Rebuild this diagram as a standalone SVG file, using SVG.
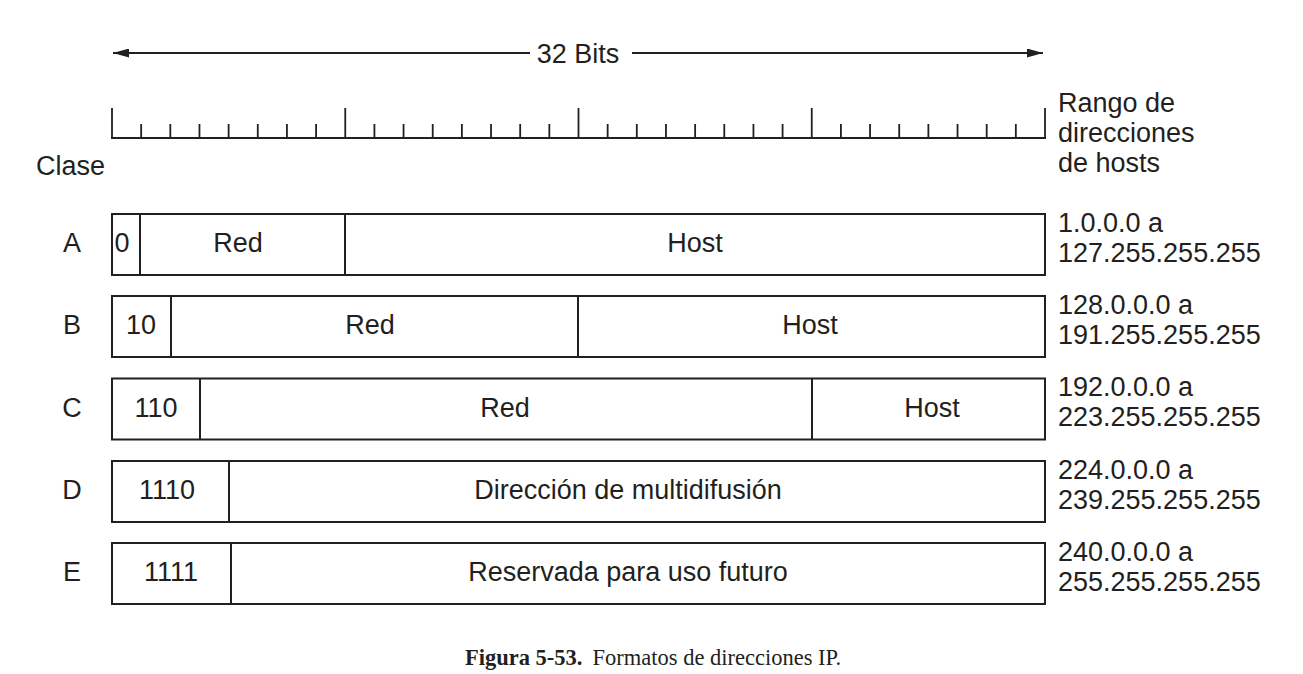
<svg xmlns="http://www.w3.org/2000/svg" width="1303" height="674" viewBox="0 0 1303 674">
  <style>
    .t { font-family: "Liberation Sans", Arial, Helvetica, sans-serif; font-size: 27px; fill: #231f20; }
    .m { text-anchor: middle; }
    .box { fill: #ffffff; stroke: #231f20; stroke-width: 2; }
    .div { stroke: #231f20; stroke-width: 2; fill: none; }
    .rule { stroke: #231f20; stroke-width: 1.8; fill: none; }
    .cap { font-family: "Liberation Serif", "Times New Roman", serif; font-size: 22.5px; fill: #231f20; }
  </style>
  <defs>
    <marker id="ah" markerWidth="16" markerHeight="9" refX="16" refY="4.5" orient="auto-start-reverse" markerUnits="userSpaceOnUse">
      <path d="M0,0 L16,4.5 L0,9 Z" fill="#231f20"/>
    </marker>
  </defs>
  <rect x="0" y="0" width="1303" height="674" fill="#ffffff"/>

  <g id="connectors">
    <line class="rule" x1="530" y1="53" x2="113" y2="53" marker-end="url(#ah)"/>
    <line class="rule" x1="632" y1="53" x2="1043" y2="53" marker-end="url(#ah)"/>
  </g>
  <text class="t m" x="578" y="62.5">32 Bits</text>

  <g id="ruler">
    <line class="rule" x1="111" y1="138" x2="1046" y2="138"/>
    <path class="rule" d="M112,108V138 M345.25,108V138 M578.5,108V138 M811.75,108V138 M1045,108V138"/>
    <path class="rule" d="M141.16,124V138 M170.31,124V138 M199.47,124V138 M228.63,124V138 M257.78,124V138 M286.94,124V138 M316.09,124V138
      M374.41,124V138 M403.56,124V138 M432.72,124V138 M461.88,124V138 M491.03,124V138 M520.19,124V138 M549.34,124V138
      M607.66,124V138 M636.81,124V138 M665.97,124V138 M695.13,124V138 M724.28,124V138 M753.44,124V138 M782.59,124V138
      M840.91,124V138 M870.06,124V138 M899.22,124V138 M928.38,124V138 M957.53,124V138 M986.69,124V138 M1015.84,124V138"/>
  </g>

  <text class="t" x="36" y="175">Clase</text>
  <text class="t" x="1058" y="112">Rango de</text>
  <text class="t" x="1058" y="142">direcciones</text>
  <text class="t" x="1058" y="172">de hosts</text>

  <g id="classA">
    <text class="t m" x="72" y="252">A</text>
    <rect class="box" x="112" y="214" width="933" height="61"/>
    <path class="div" d="M140,214V275 M345,214V275"/>
    <text class="t m" x="122" y="252">0</text>
    <text class="t m" x="238" y="252">Red</text>
    <text class="t m" x="695" y="252">Host</text>
    <text class="t" x="1058" y="232">1.0.0.0 a</text>
    <text class="t" x="1058" y="262">127.255.255.255</text>
  </g>

  <g id="classB">
    <text class="t m" x="72" y="334">B</text>
    <rect class="box" x="112" y="296" width="933" height="61"/>
    <path class="div" d="M171,296V357 M578,296V357"/>
    <text class="t m" x="141" y="334">10</text>
    <text class="t m" x="370" y="334">Red</text>
    <text class="t m" x="810" y="334">Host</text>
    <text class="t" x="1058" y="314">128.0.0.0 a</text>
    <text class="t" x="1058" y="344">191.255.255.255</text>
  </g>

  <g id="classC">
    <text class="t m" x="72" y="417">C</text>
    <rect class="box" x="112" y="378.5" width="933" height="61"/>
    <path class="div" d="M200,378.5V439.5 M812,378.5V439.5"/>
    <text class="t m" x="156" y="417">110</text>
    <text class="t m" x="505" y="417">Red</text>
    <text class="t m" x="932" y="417">Host</text>
    <text class="t" x="1058" y="396">192.0.0.0 a</text>
    <text class="t" x="1058" y="426">223.255.255.255</text>
  </g>

  <g id="classD">
    <text class="t m" x="72" y="499">D</text>
    <rect class="box" x="112" y="461" width="933" height="61"/>
    <path class="div" d="M229,461V522"/>
    <text class="t m" x="167" y="499">1110</text>
    <text class="t m" x="628" y="499">Dirección de multidifusión</text>
    <text class="t" x="1058" y="479">224.0.0.0 a</text>
    <text class="t" x="1058" y="509">239.255.255.255</text>
  </g>

  <g id="classE">
    <text class="t m" x="72" y="581">E</text>
    <rect class="box" x="112" y="543" width="933" height="61"/>
    <path class="div" d="M231,543V604"/>
    <text class="t m" x="171" y="581">1111</text>
    <text class="t m" x="628" y="581">Reservada para uso futuro</text>
    <text class="t" x="1058" y="561">240.0.0.0 a</text>
    <text class="t" x="1058" y="591">255.255.255.255</text>
  </g>

  <text class="cap" x="465" y="665"><tspan font-weight="bold">Figura 5-53.</tspan><tspan dx="10">Formatos de direcciones IP.</tspan></text>
</svg>
